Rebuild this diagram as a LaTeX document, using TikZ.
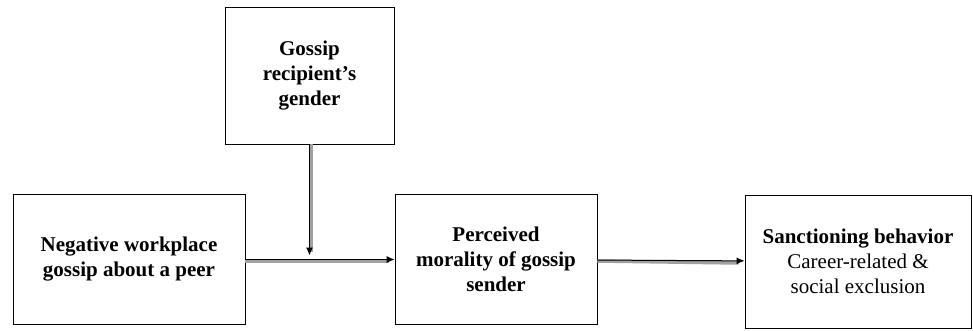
\documentclass[tikz,border=0pt]{standalone}
\usepackage{fontspec}
\setmainfont{Liberation Serif}
\usetikzlibrary{arrows.meta,positioning,calc}
\definecolor{shadowgray}{RGB}{160,160,160}

\begin{document}
\begin{tikzpicture}[x=1pt, y=1pt,
      every node/.style={font=\fontsize{21}{25}\selectfont},
      box/.style={rectangle, draw=black, line width=0.9pt, align=center,
                  inner sep=4pt, font=\fontsize{21}{25}\selectfont\bfseries},
      lnk/.style={black, line width=1pt, -{Latex[length=8pt, width=7pt]}},
      shd/.style={shadowgray, line width=3.5pt}
    ]
    \useasboundingbox (0,0) rectangle (973,330);
    % boxes
    \node[box, minimum width=232, minimum height=130] (gossip) at (129, 70.5)
      {Negative workplace\\gossip about a peer};
    \node[box, minimum width=202, minimum height=130] (moral) at (496, 70.5)
      {Perceived\\morality of gossip\\sender};
    \node[box, minimum width=226, minimum height=133, font=\fontsize{21}{25}\selectfont] (sanction) at (858, 68.5)
      {\textbf{Sanctioning behavior}\\Career-related \&\\social exclusion};
    \node[box, minimum width=169, minimum height=137] (gender) at (309.5, 254.5)
      {Gossip\\recipient's\\gender};
    % junction on the main path
    \coordinate (join) at (gender.south |- gossip.east);
    % shadows
    \draw[shd] ($(gossip.east)+(0,-1.5)$) -- ($(moral.west)+(-6,-1.5)$);
    \draw[shd] ($(moral.east)+(0,-1.5)$) -- ($(sanction.west)+(-6,-1.5)$);
    \draw[shd] ($(gender.south)+(1.5,0)$) -- ($(join)+(1.5,8)$);
    % arrows
    \draw[lnk] (gossip) -- (moral);
    \draw[lnk] (moral) -- (sanction);
    \draw[lnk, shorten >=4pt] (gender) -- (join);
  \end{tikzpicture}
\end{document}
